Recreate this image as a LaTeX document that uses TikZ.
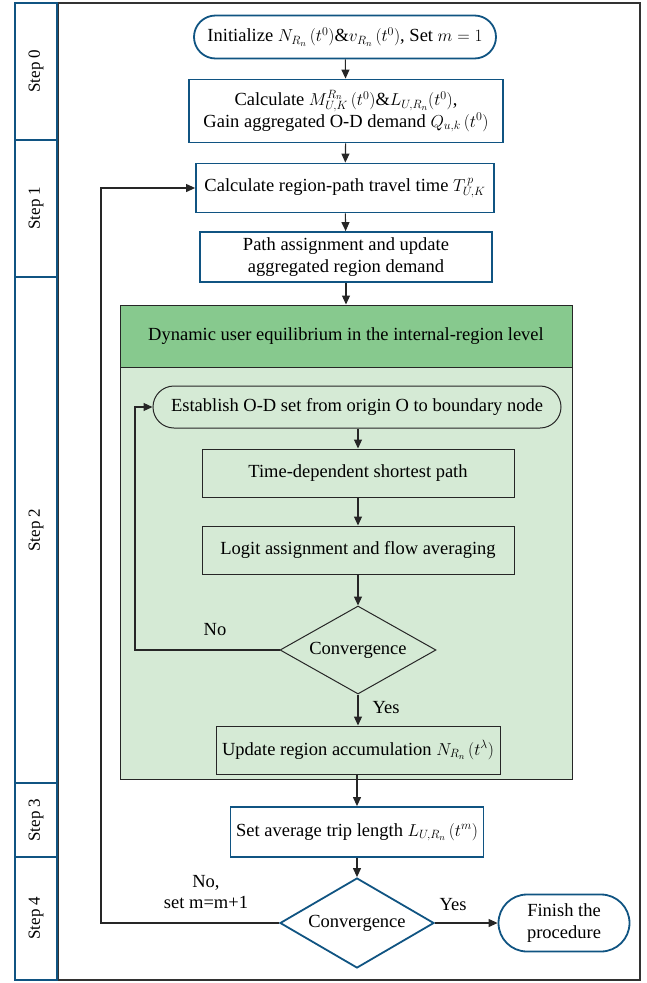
\documentclass[tikz,border=0pt]{standalone}
\usepackage{fontspec}
\setmainfont{Liberation Serif}
\usetikzlibrary{shapes.geometric,shapes.misc,arrows.meta}
\definecolor{blueC}{RGB}{16,84,130}
\definecolor{greenH}{RGB}{135,201,142}
\definecolor{greenL}{RGB}{213,234,213}
\definecolor{frameC}{RGB}{50,50,50}
\tikzset{
  txt/.style={font=\fontsize{18.5}{21.5}\selectfont, align=center, inner sep=1pt},
  bluebox/.style={txt, draw=blueC, line width=1.8pt, fill=white, rectangle},
  stadium/.style={txt, draw=blueC, line width=1.8pt, fill=white, rounded rectangle},
  gstadium/.style={txt, draw=black!85, line width=1pt, fill=greenL, rounded rectangle},
  gbox/.style={txt, draw=black!85, line width=1pt, fill=greenL, rectangle},
  gdiam/.style={txt, draw=black!85, line width=1pt, fill=greenL, diamond, inner sep=0pt, aspect=1.77},
  bdiam/.style={txt, draw=blueC, line width=1.8pt, fill=white, diamond, inner sep=0pt, aspect=1.7},
  stepbox/.style={draw=blueC, line width=2.4pt, fill=white},
  steplbl/.style={font=\fontsize{17}{20}\selectfont, rotate=90},
  lbl/.style={font=\fontsize{18.5}{21.5}\selectfont, align=center},
  arr/.style={line width=1.1pt, draw=black!85, -{Triangle[length=9pt,width=8pt]}},
  ln/.style={line width=1.1pt, draw=black!85}
}
\begin{document}
\begin{tikzpicture}[x=1pt,y=-1pt]
\useasboundingbox (0,0) rectangle (646,983);
% outer frame
\draw[frameC, line width=2pt] (58,3) rectangle (640,980);
% step column
\draw[stepbox] (15,3) rectangle (57,140);
\draw[stepbox] (15,140) rectangle (57,277);
\draw[stepbox] (15,277) rectangle (57,783);
\draw[stepbox] (15,783) rectangle (57,857);
\draw[stepbox] (15,857) rectangle (57,980);
\node[steplbl] (s0) at (36,71) {Step 0};
\node[steplbl] (s1) at (36,208) {Step 1};
\node[steplbl] (s2) at (36,530) {Step 2};
\node[steplbl] (s3) at (36,820) {Step 3};
\node[steplbl] (s4) at (36,918) {Step 4};

% top nodes
\node[stadium, minimum width=304pt, minimum height=43pt] (init) at (345,37)
  {Initialize $N_{R_n}\,(t^0)\&v_{R_n}\,(t^0)$, Set $m=1$};
\node[bluebox, minimum width=314pt, minimum height=63pt] (calcM) at (346,111)
  {Calculate $M^{R_n}_{U,K}\,(t^0)\&L_{U,R_n}(t^0)$,\\Gain aggregated O-D demand $Q_{u,k}\,(t^0)$};
\node[bluebox, minimum width=298pt, minimum height=49pt] (calcT) at (345,188)
  {Calculate region-path travel time $T^{\,p}_{U,K}$};
\node[bluebox, minimum width=292pt, minimum height=50pt] (pathA) at (346,257)
  {Path assignment and update\\aggregated region demand};

% green block
\node[gbox, minimum width=452pt, minimum height=412pt] (dbody) at (346,573) {};
\node[txt, draw=black!85, line width=1pt, fill=greenH, minimum width=452pt, minimum height=62pt] (dhead) at (346,336)
  {Dynamic user equilibrium in the internal-region level};

\node[gstadium, minimum width=410pt, minimum height=42pt] (est) at (357,407)
  {Establish O-D set from origin O to boundary node};
\node[gbox, minimum width=312pt, minimum height=48pt] (tdsp) at (358,473)
  {Time-dependent shortest path};
\node[gbox, minimum width=312pt, minimum height=48pt] (logit) at (358,550)
  {Logit assignment and flow averaging};
\node[gdiam, minimum width=156pt, minimum height=88pt] (conv1) at (358,650) {Convergence};
\node[gbox, minimum width=284pt, minimum height=48pt] (upd) at (358,750)
  {Update region accumulation $N_{R_n}\,(t^{\lambda})$};

% bottom nodes
\node[bluebox, minimum width=253pt, minimum height=50pt] (setL) at (357,832)
  {Set average trip length $L_{U,R_n}\,(t^m)$};
\node[bdiam, minimum width=154pt, minimum height=90pt] (conv2) at (357,923) {Convergence};
\node[stadium, minimum width=133pt, minimum height=57pt] (fin) at (564,923)
  {Finish the\\procedure};

% connectors
\draw[arr] (init) -- (calcM);
\draw[arr] (calcM) -- (calcT);
\draw[arr] (calcT) -- (pathA);
\draw[arr] (pathA.south) -- (pathA.south |- dhead.north);
\draw[arr] (est.south -| tdsp.north) -- (tdsp.north);
\draw[arr] (tdsp) -- (logit);
\draw[arr] (logit) -- (conv1);
\draw[arr] (conv1) -- (upd);
\draw[arr] (upd.south -| setL.north) -- (setL.north);
\draw[arr] (setL) -- (conv2);
\draw[arr] (conv2.east) -- (fin.west);

\coordinate (lp1) at (135,650);
\draw[arr] (conv1.west) -- (lp1) |- (est.west);
\coordinate (lp2) at (101,923);
\draw[arr] (conv2.west) -- (lp2) |- (calcT.west);

% labels
\node[lbl] (no1) at (215,630) {No};
\node[lbl] (yes1) at (386,708) {Yes};
\node[lbl] (no2) at (206,892) {No,\\set m=m+1};
\node[lbl] (yes2) at (453,905) {Yes};
\end{tikzpicture}
\end{document}
